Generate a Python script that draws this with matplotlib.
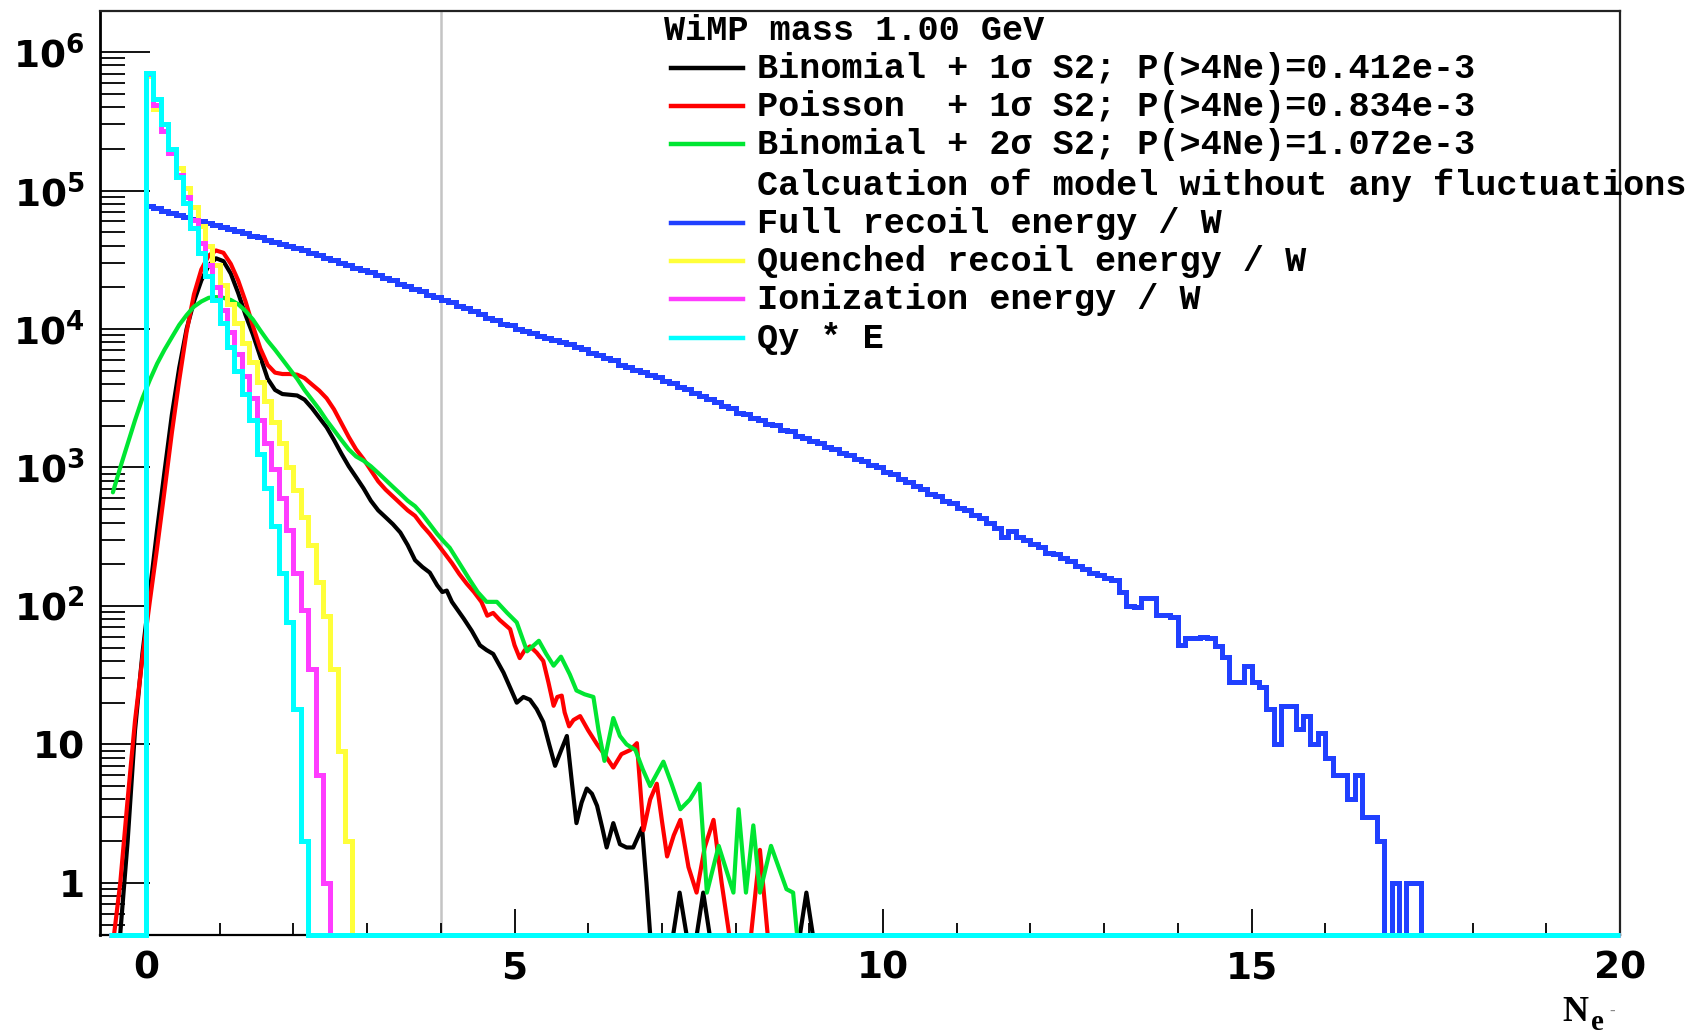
import numpy as np
import matplotlib
matplotlib.use("Agg")
import matplotlib.pyplot as plt
from matplotlib.lines import Line2D
from matplotlib.ticker import FixedLocator, LogLocator, NullFormatter, FuncFormatter

plt.rcParams['mathtext.fontset'] = 'custom'
plt.rcParams['mathtext.rm'] = 'DejaVu Sans:bold'
plt.rcParams['mathtext.default'] = 'rm'

# ---------------------------------------------------------------------------
# Model without fluctuations: counts per 0.1-wide N_e bin, first bin at N_e = 0
# ---------------------------------------------------------------------------
full_recoil = [
    76700, 74300, 71500, 69300, 66700, 64700, 62300, 60400, 58100, 56300,
    54200, 52600, 50600, 49100, 47200, 45800, 44100, 42800, 41100, 39900,
    38400, 37000, 35400, 34100, 32600, 31500, 30100, 29100, 27800, 26800,
    25600, 24600, 23300, 22500, 21300, 20500, 19400, 18700, 17700, 17100,
    16100, 15600, 14700, 14200, 13400, 12800, 12100, 11700, 10900, 10600,
    9950, 9700, 9280, 8960, 8560, 8370, 7990, 7800, 7360, 7120,
    6720, 6490, 6130, 5930, 5520, 5340, 5030, 4930, 4640, 4500,
    4240, 4060, 3820, 3660, 3440, 3290, 3110, 2970, 2800, 2680,
    2490, 2420, 2270, 2210, 2070, 2020, 1860, 1820, 1700, 1640,
    1540, 1490, 1400, 1360, 1280, 1240, 1160, 1120, 1040, 1000,
    925, 890, 825, 785, 735, 700, 645, 625, 570, 550,
    510, 495, 452, 432, 394, 368, 313, 350, 314, 298,
    280, 266, 243, 237, 222, 211, 193, 184, 172, 168,
    158, 155, 126, 100, 99, 114, 114, 86, 86, 83,
    52, 59, 59, 60, 59, 51, 43, 28, 28, 37,
    28, 26, 18, 10, 19, 19, 13, 16, 10, 12,
    8, 6, 6, 4, 6, 3, 3, 2, 0, 1,
    0, 1, 1,
]
quenched_recoil = [
    676000, 389000, 269000, 195000, 145000, 105000, 75900, 55000, 39800, 28800,
    20900, 15100, 11000, 7940, 5750, 4170, 3020, 2140, 1510, 1000,
    692, 437, 275, 148, 85, 35, 9, 2,
]
ionization = [
    692000, 417000, 269000, 186000, 129000, 89100, 61700, 41700, 28800, 20000,
    13800, 9550, 6610, 4570, 3160, 2190, 1510, 977, 603, 355,
    174, 93, 35, 6, 1,
]
qy_times_e = [
    708000, 457000, 302000, 200000, 126000, 81300, 53700, 35500, 24000, 16200,
    11000, 7410, 5010, 3390, 2190, 1260, 708, 380, 174, 76,
    18, 2,
]

# ---------------------------------------------------------------------------
# Models with fluctuations (smooth curves): N_e positions and counts
# ---------------------------------------------------------------------------
binom1_x = [-0.45, -0.35, -0.25, -0.15, -0.05, 0.05, 0.15, 0.25, 0.35, 0.45,
            0.55, 0.65, 0.75, 0.85, 0.95, 1.05, 1.15, 1.25, 1.35, 1.45,
            1.55, 1.65, 1.75, 1.85, 1.95, 2.05, 2.15, 2.25, 2.35, 2.45,
            2.55, 2.65, 2.75, 2.85, 2.95, 3.05, 3.15, 3.25, 3.35, 3.45,
            3.55, 3.65, 3.75, 3.85, 3.95, 4.02, 4.08, 4.15, 4.31, 4.42,
            4.53, 4.62, 4.71, 4.85, 4.95, 5.03, 5.12, 5.21, 5.30, 5.39,
            5.47, 5.55, 5.63, 5.71, 5.78, 5.84, 5.91, 5.98, 6.05, 6.12,
            6.19, 6.25, 6.34, 6.43, 6.52, 6.61, 6.73, 6.79, 6.86,
            7.11, 7.24, 7.38, 7.43, 7.56, 7.69, 8.83, 8.96, 9.09]
binom1_y = [0.3, 0.43, 2.0, 12.6, 45, 126, 355, 933, 2400, 5250,
            10000, 15800, 22400, 28800, 32400, 30900, 25100, 18200, 12600, 9120,
            6310, 4370, 3630, 3390, 3350, 3310, 3090, 2690, 2290, 1950,
            1580, 1260, 1020, 851, 708, 575, 490, 437, 389, 339,
            275, 214, 191, 174, 141, 126, 129, 107, 81, 66,
            52, 48, 45, 33, 25, 20, 22, 21, 18, 14.5,
            10, 7.0, 9.0, 11.5, 5.2, 2.7, 3.8, 4.8, 4.4, 3.6,
            2.5, 1.8, 2.7, 1.9, 1.8, 1.8, 2.5, 1.0, 0.3,
            0.3, 0.85, 0.3, 0.3, 0.85, 0.3, 0.3, 0.85, 0.3]

poisson1_x = [-0.45, -0.35, -0.25, -0.15, -0.05, 0.05, 0.15, 0.25, 0.35, 0.45,
              0.55, 0.65, 0.75, 0.85, 0.95, 1.05, 1.15, 1.25, 1.35, 1.45,
              1.55, 1.65, 1.75, 1.85, 1.95, 2.05, 2.15, 2.25, 2.35, 2.45,
              2.55, 2.65, 2.75, 2.85, 2.95, 3.05, 3.15, 3.25, 3.35, 3.45,
              3.55, 3.65, 3.75, 3.85, 3.95, 4.05, 4.15, 4.25, 4.35, 4.45,
              4.55, 4.63, 4.71, 4.80, 4.94, 5.00, 5.07, 5.14, 5.21, 5.30,
              5.39, 5.46, 5.53, 5.58, 5.64, 5.68, 5.74, 5.80, 5.89, 6.00,
              6.12, 6.23, 6.34, 6.45, 6.57, 6.66, 6.75, 6.84, 6.93, 7.00,
              7.07, 7.16, 7.25, 7.36, 7.47, 7.58, 7.70, 7.81, 7.92, 8.18,
              8.33, 8.46]
poisson1_y = [0.36, 1.0, 4.0, 14.8, 41.7, 107, 263, 676, 1780, 4270,
              9550, 17800, 26900, 33900, 36900, 35500, 29500, 22400, 15800, 10500,
              7240, 5500, 4840, 4730, 4730, 4680, 4420, 3980, 3590, 3160,
              2630, 2090, 1660, 1350, 1150, 955, 794, 692, 617, 550,
              490, 447, 380, 331, 282, 240, 204, 170, 145, 126,
              107, 85, 89, 79, 68, 52, 42, 48, 51, 46,
              40, 28, 19, 22, 22.5, 17, 13.5, 15, 16, 12.6,
              10, 8.3, 6.8, 8.5, 9.1, 10.2, 2.4, 4.0, 5.2, 2.8,
              1.55, 2.2, 2.85, 1.3, 0.85, 1.8, 2.85, 1.0, 0.4, 0.3,
              1.73, 0.3]

binom2_x = [-0.45, -0.35, -0.25, -0.15, -0.05, 0.05, 0.15, 0.25, 0.35, 0.45,
            0.55, 0.65, 0.75, 0.85, 0.95, 1.05, 1.15, 1.25, 1.35, 1.45,
            1.55, 1.65, 1.75, 1.85, 1.95, 2.05, 2.15, 2.25, 2.35, 2.45,
            2.55, 2.65, 2.75, 2.85, 2.95, 3.05, 3.15, 3.25, 3.35, 3.45,
            3.55, 3.65, 3.75, 3.85, 3.95, 4.05, 4.12, 4.25, 4.39, 4.50,
            4.62, 4.76, 4.90, 5.03, 5.17, 5.33, 5.43, 5.53, 5.63, 5.75,
            5.84, 5.95, 6.07, 6.14, 6.22, 6.34, 6.43, 6.52, 6.64, 6.74,
            6.84, 7.02, 7.13, 7.25, 7.38, 7.51, 7.61, 7.77, 7.97, 8.04,
            8.14, 8.24, 8.33, 8.48, 8.69, 8.78, 8.86]
binom2_y = [661, 1000, 1480, 2190, 3160, 4270, 5620, 7080, 8710, 10700,
            12600, 14500, 15800, 16800, 17000, 16800, 16200, 15100, 13500, 11700,
            9770, 8220, 7080, 6030, 5130, 4370, 3630, 3090, 2630, 2190,
            1860, 1580, 1350, 1200, 1120, 1020, 912, 813, 724, 646,
            575, 525, 457, 389, 331, 288, 263, 204, 155, 126,
            107, 107, 89, 76, 47, 56, 45, 37, 43, 32,
            24.5, 23, 22, 12.6, 7.6, 15.5, 11.5, 10, 9.1, 6.6,
            5.0, 7.5, 5.2, 3.4, 4.0, 5.2, 0.85, 1.85, 0.85, 3.4,
            0.85, 2.6, 0.85, 1.85, 0.9, 0.85, 0.3]

legend_header = "WiMP mass 1.00 GeV"
legend_labels = [
    "Binomial + 1σ S2; P(>4Ne)=0.412e-3",
    "Poisson  + 1σ S2; P(>4Ne)=0.834e-3",
    "Binomial + 2σ S2; P(>4Ne)=1.072e-3",
    "Calcuation of model without any fluctuations",
    "Full recoil energy / W",
    "Quenched recoil energy / W",
    "Ionization energy / W",
    "Qy * E",
]
y_tick_values = [1, 10, 100, 1000, 10000, 100000, 1000000]
x_tick_values = [0, 5, 10, 15, 20]
threshold_ne = 4

# ---------------------------------------------------------------------------
C_BLACK, C_RED, C_GREEN = '#000000', '#ff0000', '#00e632'
C_BLUE, C_YELLOW, C_MAGENTA, C_CYAN = '#2040ff', '#ffff3a', '#ff3cff', '#00ffff'

W, H = 1693, 1033
X_MIN, X_MAX = -0.625, 20.0
Y_MIN, Y_MAX = 0.42, 1.98e6

fig = plt.figure(figsize=(W / 100, H / 100), dpi=100)
ax_l, ax_r, ax_t, ax_b = 100, 1620, 11, 935
ax = fig.add_axes([ax_l / W, 1 - ax_b / H, (ax_r - ax_l) / W, (ax_b - ax_t) / H])
ax.set_yscale('log')

edges = np.round(np.arange(-0.5, 20.0 + 1e-9, 0.1), 2)


def full_histogram(counts, first_edge=0.0):
    out = np.zeros(len(edges) - 1)
    i0 = int(round((first_edge - edges[0]) / 0.1))
    out[i0:i0 + len(counts)] = counts
    return out


ax.axvline(threshold_ne, color='#c4c4c4', lw=1.8, zorder=1)

curve_kw = dict(lw=3.0, solid_joinstyle='round', solid_capstyle='round')
ax.plot(binom1_x, binom1_y, color=C_BLACK, zorder=2.0, **curve_kw)
ax.plot(poisson1_x, poisson1_y, color=C_RED, zorder=2.1, **curve_kw)
ax.plot(binom2_x, binom2_y, color=C_GREEN, zorder=2.2, **curve_kw)

# empty bins sit on the lower edge of the frame, as on a ROOT log plot
for counts, color, z in [(full_recoil, C_BLUE, 3.0), (quenched_recoil, C_YELLOW, 3.1),
                         (ionization, C_MAGENTA, 3.2), (qy_times_e, C_CYAN, 3.3)]:
    vals = np.maximum(full_histogram(counts), Y_MIN)
    ax.stairs(vals, edges, baseline=None, color=color, lw=3.6, zorder=z,
              clip_on=False)

ax.set_xlim(X_MIN, X_MAX)
ax.set_ylim(Y_MIN, Y_MAX)

# axes, ticks
for side in ['top', 'right', 'bottom']:
    ax.spines[side].set_linewidth(1.6)
ax.spines['left'].set_linewidth(2.0)
ax.spines['top'].set_color('#222222')
ax.spines['right'].set_color('#222222')

ax.xaxis.set_major_locator(FixedLocator(x_tick_values))
ax.xaxis.set_minor_locator(FixedLocator(list(range(0, 21))))
ax.yaxis.set_major_locator(FixedLocator(y_tick_values))
ax.yaxis.set_minor_locator(LogLocator(base=10, subs=np.arange(2, 10), numticks=20))
ax.yaxis.set_minor_formatter(NullFormatter())


def y_label(v, pos):
    if v < 5:
        return '1'
    if v < 50:
        return '10'
    return r'$10^{%d}$' % int(round(np.log10(v)))


ax.yaxis.set_major_formatter(FuncFormatter(y_label))
ax.xaxis.set_major_formatter(FuncFormatter(lambda v, p: '%d' % v))

ax.tick_params(axis='both', which='both', direction='in', top=False, right=False)
ax.tick_params(axis='y', which='major', length=36, width=1.3, pad=11, labelsize=27)
ax.tick_params(axis='y', which='minor', length=18, width=1.3)
ax.tick_params(axis='x', which='major', length=19, width=1.3, pad=11, labelsize=27)
ax.tick_params(axis='x', which='minor', length=9, width=1.3)
for lab in ax.get_xticklabels() + ax.get_yticklabels():
    lab.set_fontfamily('DejaVu Sans')
    lab.set_fontweight('bold')


# figure-pixel helpers for the legend and axis title
def fx(x):
    return x / W


def fy(y):
    return 1 - y / H


# axis title N_{e^-}
serif_bold = dict(family='Liberation Serif', fontweight='bold', va='baseline', ha='left')
fig.text(fx(1562), fy(1021), 'N', fontsize=26, **serif_bold)
fig.text(fx(1591), fy(1030), 'e', fontsize=21, **serif_bold)
fig.text(fx(1609), fy(1016), '-', fontsize=12, color='#888888', **serif_bold)

leg_font = dict(family=['Liberation Mono', 'DejaVu Sans Mono'], fontweight='bold',
                fontsize=25.3, va='baseline', ha='left')
fig.text(fx(664), fy(40), legend_header, **leg_font)
row_base = [78, 116, 154, 195, 233, 271, 309, 348]
row_color = [C_BLACK, C_RED, C_GREEN, None, C_BLUE, C_YELLOW, C_MAGENTA, C_CYAN]
for label, base, color in zip(legend_labels, row_base, row_color):
    fig.text(fx(757), fy(base), label, **leg_font)
    if color is not None:
        fig.add_artist(Line2D([fx(671), fx(743)], [fy(base - 10), fy(base - 10)],
                              color=color, lw=3.2, transform=fig.transFigure))

fig.savefig('out.png', dpi=100)
